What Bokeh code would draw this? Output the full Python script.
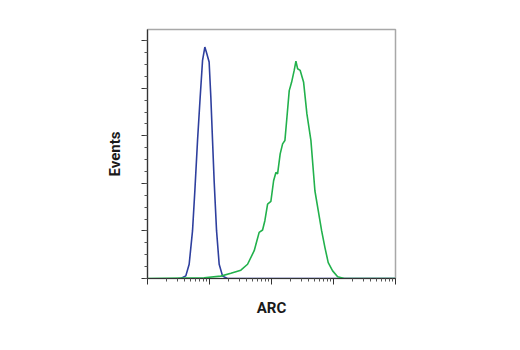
from bokeh.plotting import figure
from bokeh.models import FixedTicker, Range1d, CustomJSTickFormatter
from bokeh.embed import file_html
from bokeh.resources import INLINE
import numpy as np

# Data: x in log10 decades of ARC intensity, y in events
blue_x = [0.50, 0.538, 0.618, 0.672, 0.726, 0.764, 0.807, 0.849, 0.888, 0.925, 0.957, 0.994,
          1.022, 1.049, 1.075, 1.114, 1.156, 1.211, 1.291, 4.0]
blue_y = [0, 0, 1.1, 6, 20, 37, 58, 76, 91.7, 97.3, 94.5, 91,
          76, 58, 41, 20, 6, 1, 0, 0]

green_x = [0.0, 0.914, 1.183, 1.345, 1.506, 1.614, 1.721, 1.801, 1.856, 1.893, 1.937, 1.990,
           2.034, 2.071, 2.098, 2.140, 2.179, 2.216, 2.249, 2.286, 2.324, 2.366, 2.394, 2.421,
           2.463, 2.518, 2.571, 2.636, 2.700, 2.754, 2.809, 2.862, 2.915, 2.986, 3.067, 3.174, 4.0]
green_y = [0, 0.3, 1.0, 2.2, 3.5, 6.0, 11.7, 19.4, 20.4, 24.3, 31.3, 32.4,
           41.1, 44.6, 44.0, 52.4, 56.6, 58.0, 67.8, 79.0, 82.5, 87.5, 91.4, 88.2,
           87.5, 82.5, 69.2, 58.0, 36.9, 28.5, 20.0, 13.0, 6.7, 3.2, 0.7, 0, 0]

x_major = [0, 1, 2, 3, 4]
y_major = [0, 20, 40, 60, 80, 100]

p = figure(width=512, height=342, output_backend="svg", toolbar_location=None,
           x_range=Range1d(0, 4), y_range=Range1d(0, 104.7),
           min_border_left=147, min_border_right=117, min_border_top=29, min_border_bottom=64)

p.grid.visible = False
p.outline_line_color = "#a8a8a8"
p.outline_line_width = 1.5

x_minor = [k + np.log10(m) for k in range(4) for m in range(2, 10)]
p.xaxis.ticker = FixedTicker(ticks=x_major, minor_ticks=x_minor)
p.yaxis.ticker = FixedTicker(ticks=y_major, minor_ticks=[v for v in range(0, 106, 5)])

blank = CustomJSTickFormatter(code="return '';")
for ax in (p.xaxis[0], p.yaxis[0]):
    ax.formatter = blank
    ax.major_label_standoff = 0
    ax.axis_line_color = "#333333"
    ax.axis_line_width = 1.2
    ax.major_tick_line_color = "#333333"
    ax.minor_tick_line_color = "#555555"
    ax.major_tick_in = 0
    ax.minor_tick_in = 0
    ax.major_tick_out = 6
    ax.minor_tick_out = 3
    ax.axis_label_text_font = "Roboto"
    ax.axis_label_text_font_style = "bold"
    ax.axis_label_text_font_size = "15px"
    ax.axis_label_text_color = "#1a1a1a"

p.xaxis.axis_label = "ARC"
p.yaxis.axis_label = "Events"
p.xaxis.axis_label_standoff = 14
p.yaxis.axis_label_standoff = 18

p.line(blue_x, blue_y, line_color="#2e3f9e", line_width=1.6)
p.line(green_x, green_y, line_color="#22b14c", line_width=1.6)

open("out.html", "w").write(file_html(p, INLINE))
